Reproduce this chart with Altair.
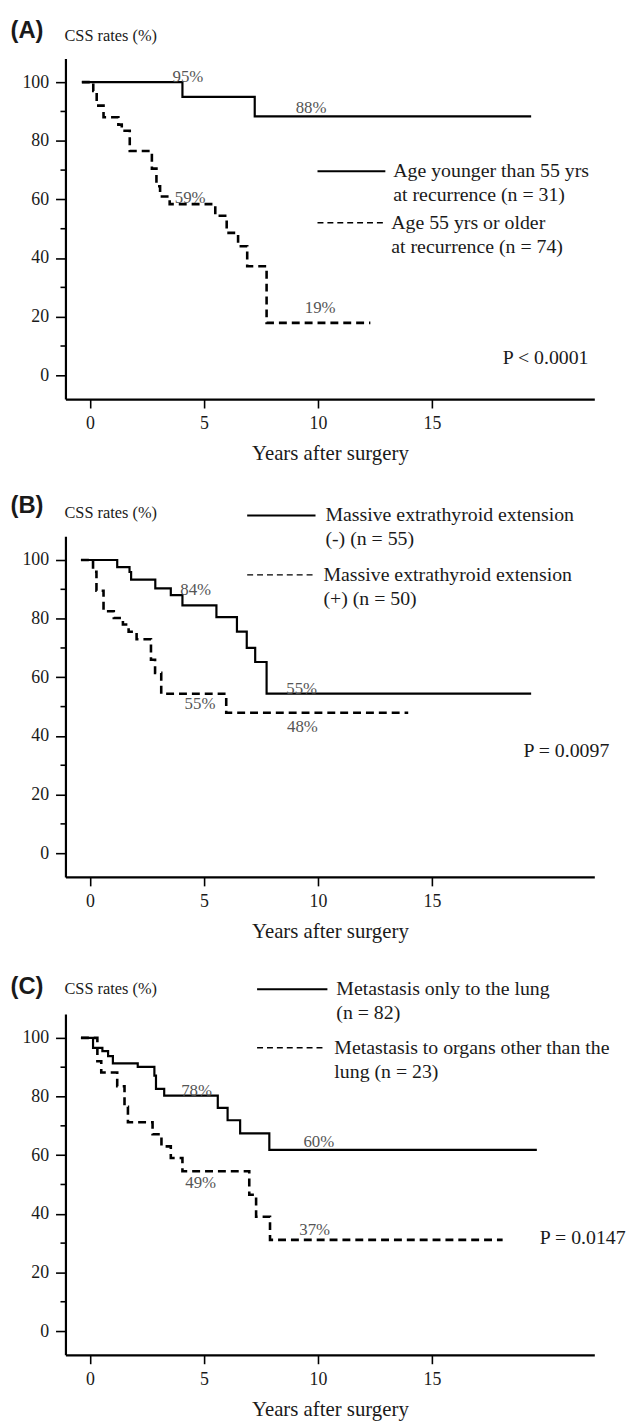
import altair as alt
import pandas as pd

# ---------------- data ----------------
# Panel A
a_solid_t = [-0.35, 4.06, 7.23, 19.35]
a_solid_s = [100, 95.0, 88.3, 88.3]
a_dash_t = [-0.35, 0.15, 0.3, 0.6, 1.25, 1.4, 1.75, 2.72, 2.92, 3.08, 3.5, 5.5, 6.0, 6.5, 6.9, 7.75, 12.3]
a_dash_s = [100, 97, 92, 88, 85.5, 83.4, 76.5, 70.5, 64.5, 61, 58.4, 54.4, 48.6, 44, 37.2, 17.9, 17.9]
a_ann_text = ["95%", "88%", "59%", "19%"]
a_ann_t = [4.3, 9.7, 4.4, 10.1]
a_ann_s = [101.7, 91.0, 60.5, 23.0]
a_legend_solid = ["Age younger than 55 yrs", "at recurrence (n = 31)"]
a_legend_dash = ["Age 55 yrs or older", "at recurrence (n = 74)"]
a_p = "P < 0.0001"

# Panel B
b_solid_t = [-0.39, 1.2, 1.74, 1.81, 2.87, 3.55, 4.06, 5.55, 6.45, 6.88, 7.25, 7.75, 19.35]
b_solid_s = [100, 97.6, 95.9, 93.3, 90.3, 88.0, 84.5, 80.5, 75.6, 70.0, 65.2, 54.4, 54.4]
b_dash_t = [-0.39, 0.14, 0.29, 0.6, 1.05, 1.45, 1.7, 2.05, 2.68, 2.86, 3.13, 5.98, 13.96]
b_dash_s = [100, 96, 89.5, 82.5, 80.2, 78, 75.5, 73, 66, 61.5, 54.4, 47.9, 47.9]
b_ann_text = ["84%", "55%", "55%", "48%"]
b_ann_t = [4.64, 9.29, 4.83, 9.32]
b_ann_s = [89.7, 55.9, 51.0, 43.1]
b_legend_solid = ["Massive extrathyroid extension", "(-) (n = 55)"]
b_legend_dash = ["Massive extrathyroid extension", "(+) (n = 50)"]
b_p = "P = 0.0097"

# Panel C
c_solid_t = [-0.39, 0.14, 0.55, 0.8, 1.01, 2.1, 2.83, 2.9, 3.26, 5.61, 6.04, 6.59, 7.87, 19.6]
c_solid_s = [100, 96.6, 95.5, 93.8, 91.3, 90.1, 87.1, 82.6, 80.3, 76.1, 71.9, 67.4, 61.8, 61.8]
c_dash_t = [-0.39, 0.33, 0.5, 1.2, 1.52, 1.67, 2.75, 3.14, 3.55, 4.06, 6.99, 7.29, 7.9, 18.1]
c_dash_s = [100, 92, 88.2, 83.5, 76.5, 71.2, 67.1, 63, 59, 54.5, 46.5, 39.0, 31.1, 31.1]
c_ann_text = ["78%", "60%", "49%", "37%"]
c_ann_t = [4.68, 10.04, 4.86, 9.86]
c_ann_s = [81.7, 64.6, 50.6, 34.5]
c_legend_solid = ["Metastasis only to the lung", "(n = 82)"]
c_legend_dash = ["Metastasis to organs other than the", "lung (n = 23)"]
c_p = "P = 0.0147"

x_ticks = [0, 5, 10, 15]
y_ticks = [0, 20, 40, 60, 80, 100]
y_minor = [10, 30, 50, 70, 90]

# ---------------- styling ----------------
W, H = 534, 344
SERIF = "Liberation Serif"
xscale = alt.Scale(domain=[-1.07, 22.12], nice=False, zero=False)
yscale = alt.Scale(domain=[-8.1, 108.1], nice=False, zero=False)

xaxis = alt.Axis(values=x_ticks, tickSize=9, labelPadding=7, format="d",
                 labelFlush=False, title="Years after surgery",
                 labelFont=SERIF, labelFontSize=18, labelColor="#1a1a1a",
                 titleFont=SERIF, titleFontSize=21, titleFontWeight="normal",
                 titleColor="#1a1a1a", titleY=55, titleBaseline="middle")
yaxis = alt.Axis(values=y_ticks, tickSize=10, labelPadding=7, format="d",
                 labelFont=SERIF, labelFontSize=18, labelColor="#1a1a1a",
                 labelFlush=False)


def X(field):
    return alt.X(field, type="quantitative", scale=xscale, axis=xaxis)


def Y(field):
    return alt.Y(field, type="quantitative", scale=yscale, axis=yaxis, title=None)


def one(label):
    return pd.DataFrame({"label": [label]})


def panel(letter, st, ss, dt, ds, ann_text, ann_t, ann_s,
          leg_solid, leg_dash, pval, leg, ptxt, head_y):
    solid = alt.Chart(pd.DataFrame({"t": st, "s": ss})).mark_line(
        interpolate="step-after", color="black", strokeWidth=2.2
    ).encode(x=X("t"), y=Y("s"))
    dashed = alt.Chart(pd.DataFrame({"t": dt, "s": ds})).mark_line(
        interpolate="step-after", color="black", strokeWidth=2.6,
        strokeDash=[8, 5]
    ).encode(x=X("t"), y=Y("s"))
    minor = alt.Chart(pd.DataFrame({"v": y_minor})).mark_rule(
        color="black", strokeWidth=1.6
    ).encode(y=Y("v"), x=alt.value(-5), x2=alt.value(0))
    ann = alt.Chart(pd.DataFrame({"t": ann_t, "s": ann_s, "label": ann_text})).mark_text(
        font=SERIF, fontSize=17, color="#555555", align="center", baseline="middle"
    ).encode(x=X("t"), y=Y("s"), text="label:N")

    layers = [solid, dashed, minor, ann]

    # panel letter and y-axis heading
    layers.append(alt.Chart(one(letter)).mark_text(
        font="Liberation Sans", fontSize=24, fontWeight="bold", color="#1a1a1a",
        align="left", baseline="middle"
    ).encode(x=alt.value(-55.5), y=alt.value(head_y[0]), text="label:N"))
    layers.append(alt.Chart(one("CSS rates (%)")).mark_text(
        font=SERIF, fontSize=16.5, color="#1a1a1a", align="left", baseline="middle"
    ).encode(x=alt.value(-1), y=alt.value(head_y[1]), text="label:N"))

    # legend
    lx1, lx2, tx, ys, yd = leg
    layers.append(alt.Chart(one("s")).mark_rule(color="black", strokeWidth=2).encode(
        x=alt.value(lx1), x2=alt.value(lx2), y=alt.value(ys)))
    layers.append(alt.Chart(one("d")).mark_rule(color="black", strokeWidth=1.5,
                                                strokeDash=[6, 4]).encode(
        x=alt.value(lx1), x2=alt.value(lx2 - 2), y=alt.value(yd)))
    for i, line in enumerate(leg_solid):
        layers.append(alt.Chart(one(line)).mark_text(
            font=SERIF, fontSize=20, color="#1a1a1a", align="left", baseline="middle"
        ).encode(x=alt.value(tx), y=alt.value(ys + 24 * i), text="label:N"))
    for i, line in enumerate(leg_dash):
        layers.append(alt.Chart(one(line)).mark_text(
            font=SERIF, fontSize=20, color="#1a1a1a", align="left", baseline="middle"
        ).encode(x=alt.value(tx - 2), y=alt.value(yd + 24 * i), text="label:N"))

    # p-value
    layers.append(alt.Chart(one(pval)).mark_text(
        font=SERIF, fontSize=20, color="#1a1a1a", align="left", baseline="middle"
    ).encode(x=alt.value(ptxt[0]), y=alt.value(ptxt[1]), text="label:N"))

    return alt.layer(*layers).properties(width=W, height=H)


pa = panel("(A)", a_solid_t, a_solid_s, a_dash_t, a_dash_s, a_ann_text, a_ann_t, a_ann_s,
           a_legend_solid, a_legend_dash, a_p,
           (254.5, 323, 331, 114, 166), (441.5, 303), (-28, -23))
pb = panel("(B)", b_solid_t, b_solid_s, b_dash_t, b_dash_s, b_ann_text, b_ann_t, b_ann_s,
           b_legend_solid, b_legend_dash, b_p,
           (183.5, 252.5, 262.5, -21, 39), (462.5, 217), (-30, -23))
pc = panel("(C)", c_solid_t, c_solid_s, c_dash_t, c_dash_s, c_ann_text, c_ann_t, c_ann_s,
           c_legend_solid, c_legend_dash, c_p,
           (193.5, 264.5, 273.5, -25, 34), (479, 226), (-27, -25))

chart = alt.vconcat(pa, pb, pc, spacing=138.5, bounds="flush").properties(
    padding={"left": 2, "top": 4, "right": 0, "bottom": 0}
).configure_view(stroke=None).configure_axis(
    domainColor="black", domainWidth=2.2, tickColor="black", tickWidth=1.6,
    labelColor="#1a1a1a", labelFont=SERIF, labelFontSize=18,
    titleFont=SERIF, titleFontSize=21, titleFontWeight="normal", titleColor="#1a1a1a",
    grid=False
)

chart.save("out.html", embed_options={"renderer": "svg", "actions": False})
